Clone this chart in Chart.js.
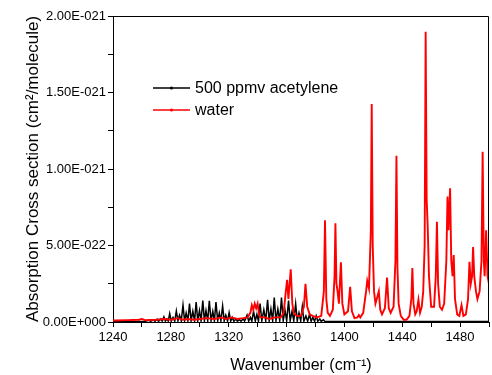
<!DOCTYPE html>
<html>
<head>
<meta charset="utf-8">
<script src="https://cdn.jsdelivr.net/npm/chart.js@4"></script>
<style>
  html, body { margin: 0; padding: 0; background: #fff; }
  #wrap { width: 492px; height: 375px; }
</style>
</head>
<body>
<div id="wrap"><canvas id="canvas"></canvas></div>
<script>
// 吸収断面積 (単位 1E-021 cm2/molecule) を波数ごとに読み取り
var acetyleneWn = [
  1240, 1262, 1265, 1266, 1268, 1269, 1270.5, 1271.5, 1273, 1274,
  1275.2, 1276.2, 1277.3, 1278.2, 1279.2, 1280.3, 1281.5, 1282.7, 1283.8, 1284.9,
  1286, 1287.2, 1288.4, 1289.5, 1290.6, 1291.8, 1292.9, 1294, 1295.2, 1296.4,
  1297.5, 1298.6, 1299.8, 1300.9, 1302.1, 1303.2, 1304.3, 1305.5, 1306.6, 1307.8,
  1309, 1310.1, 1311.2, 1312.4, 1313.5, 1314.6, 1315.8, 1316.9, 1318, 1319.2,
  1320.3, 1321.4, 1322.5, 1323.6, 1325, 1326, 1327.5, 1328.5, 1330, 1331,
  1332.7, 1333.8, 1335, 1336, 1337.2, 1338.4, 1339.5, 1340.6, 1341.7, 1342.9,
  1344.3, 1345.6, 1346.9, 1348, 1349.2, 1350.4, 1351.5, 1352.7, 1354, 1355.3,
  1356.5, 1357.7, 1358.9, 1360.1, 1361.4, 1362.5, 1363.8, 1365, 1366.3, 1367.4,
  1368.6, 1369.8, 1370.9, 1372, 1373.4, 1374.6, 1375.9, 1377, 1378.2, 1379.4,
  1380.5, 1381.6, 1383, 1384, 1385.5, 1386.5, 1500
];
var acetyleneSigma = [
  0.003, 0.004, 0.012, 0.004, 0.014, 0.004, 0.018, 0.004, 0.02, 0.006,
  0.033, 0.006, 0.02, 0.006, 0.055, 0.006, 0.03, 0.006, 0.072, 0.008,
  0.045, 0.008, 0.11, 0.008, 0.06, 0.008, 0.12, 0.008, 0.07, 0.008,
  0.13, 0.008, 0.075, 0.008, 0.14, 0.008, 0.075, 0.008, 0.138, 0.008,
  0.07, 0.008, 0.13, 0.008, 0.06, 0.008, 0.105, 0.008, 0.045, 0.006,
  0.062, 0.006, 0.03, 0.005, 0.02, 0.005, 0.015, 0.005, 0.02, 0.006,
  0.045, 0.006, 0.03, 0.006, 0.07, 0.006, 0.05, 0.006, 0.12, 0.008,
  0.08, 0.008, 0.145, 0.008, 0.085, 0.008, 0.16, 0.008, 0.085, 0.008,
  0.16, 0.008, 0.08, 0.008, 0.14, 0.008, 0.07, 0.008, 0.12, 0.008,
  0.06, 0.006, 0.1, 0.006, 0.04, 0.005, 0.05, 0.005, 0.03, 0.005,
  0.04, 0.005, 0.02, 0.004, 0.015, 0.004, 0.003
];

var waterWn = [
  1240, 1250, 1258, 1260, 1262, 1270, 1275, 1280, 1285, 1288,
  1292, 1296, 1300, 1305, 1310, 1315, 1318, 1322, 1326, 1330,
  1333, 1335, 1336, 1337, 1338, 1339, 1340, 1341, 1342, 1345,
  1348, 1352, 1356, 1358, 1359.5, 1360.4, 1361.3, 1362.9, 1364, 1365,
  1367, 1370, 1372, 1373.1, 1374.3, 1376, 1378, 1381, 1384, 1385.8,
  1386.6, 1387.5, 1388.5, 1390, 1392, 1393.2, 1393.8, 1394.5, 1395.3, 1396.2,
  1397.6, 1398.6, 1400, 1402.5, 1404, 1405.2, 1407, 1409, 1410, 1411,
  1413, 1415, 1415.8, 1417, 1418.3, 1418.9, 1419.6, 1420.5, 1421.5, 1423.8,
  1424.8, 1426, 1428, 1429.5, 1430.7, 1432, 1433, 1434, 1435.3, 1436,
  1436.7, 1437.5, 1439, 1441, 1443, 1445, 1446.3, 1447, 1447.8, 1449,
  1450, 1451.2, 1452.3, 1453.5, 1454.5, 1455.5, 1456.2, 1456.9, 1457.6, 1458.5,
  1460, 1462, 1463.2, 1464, 1464.8, 1466, 1467.5, 1469, 1470.5, 1471.3,
  1472, 1473.1, 1473.9, 1474.8, 1475.6, 1476.5, 1478, 1479.5, 1481, 1482.3,
  1484, 1485.5, 1486.5, 1487.4, 1488.3, 1489, 1489.8, 1491, 1492, 1493.5,
  1494.8, 1495.6, 1496.4, 1497, 1498, 1499, 1500
];
var waterSigma = [
  0.01, 0.012, 0.015, 0.02, 0.012, 0.015, 0.02, 0.015, 0.025, 0.015,
  0.02, 0.015, 0.02, 0.025, 0.02, 0.03, 0.02, 0.03, 0.02, 0.025,
  0.03, 0.06, 0.11, 0.08, 0.12, 0.09, 0.12, 0.05, 0.03, 0.03,
  0.02, 0.03, 0.03, 0.06, 0.2, 0.275, 0.15, 0.345, 0.12, 0.06,
  0.04, 0.04, 0.1, 0.25, 0.1, 0.05, 0.04, 0.03, 0.04, 0.2,
  0.665, 0.15, 0.06, 0.04, 0.08, 0.3, 0.645, 0.25, 0.2, 0.12,
  0.39, 0.12, 0.05, 0.07, 0.23, 0.07, 0.025, 0.03, 0.045, 0.03,
  0.06, 0.2, 0.27, 0.22, 0.6, 1.425, 0.5, 0.2, 0.12, 0.2,
  0.08, 0.05, 0.09, 0.29, 0.09, 0.06, 0.08, 0.1, 0.4, 1.087,
  0.35, 0.12, 0.04, 0.015, 0.015, 0.04, 0.15, 0.353, 0.12, 0.05,
  0.07, 0.145, 0.06, 0.1, 0.2, 0.5, 1.897, 0.8, 0.63, 0.3,
  0.1, 0.1, 0.3, 0.655, 0.25, 0.1, 0.08, 0.12, 0.4, 0.82,
  0.6, 0.874, 0.4, 0.3, 0.437, 0.15, 0.05, 0.04, 0.11, 0.04,
  0.05, 0.15, 0.394, 0.25, 0.3, 0.49, 0.3, 0.2, 0.15, 0.2,
  0.4, 1.113, 0.4, 0.3, 0.6, 0.3, 0.25
];

var seriesNames = ['500 ppmv acetylene', 'water'];
var xTickLabels = [1240, 1280, 1320, 1360, 1400, 1440, 1480];
var yUnit = 1e-21;

function toPoints(wn, sigma) {
  return wn.map(function(w, i) { return {x: w, y: sigma[i] * yUnit}; });
}

// 2.00E-021 形式
function sciLabel(v) {
  if (Math.abs(v) < 1e-30) return '0.00E+000';
  var e = Math.floor(Math.log10(Math.abs(v)));
  var m = v / Math.pow(10, e);
  if (m >= 9.995) { m /= 10; e += 1; }
  if (m < 0.9995) { m *= 10; e -= 1; }
  return m.toFixed(2) + 'E' + (e < 0 ? '-' : '+') + String(Math.abs(e)).padStart(3, '0');
}

var FONT = '"Liberation Sans", Arial, sans-serif';

// 枠線（上・右）
var framePlugin = {
  id: 'frame',
  afterDraw: function(chart) {
    var a = chart.chartArea, ctx = chart.ctx;
    ctx.save();
    ctx.strokeStyle = '#000';
    ctx.lineWidth = 1;
    ctx.beginPath();
    ctx.moveTo(a.left, a.top + 0.5);
    ctx.lineTo(a.right - 0.5, a.top + 0.5);
    ctx.lineTo(a.right - 0.5, a.bottom);
    ctx.stroke();
    ctx.restore();
  }
};

// グラフ内の凡例
var insideLegend = {
  id: 'insideLegend',
  afterDraw: function(chart) {
    var ctx = chart.ctx;
    var x0 = 153, y0 = 88, rowH = 22, len = 37;
    ctx.save();
    chart.data.datasets.forEach(function(ds, i) {
      var y = y0 + i * rowH;
      ctx.strokeStyle = ds.borderColor;
      ctx.lineWidth = 1.6;
      ctx.beginPath();
      ctx.moveTo(x0, y);
      ctx.lineTo(x0 + len, y);
      ctx.stroke();
      ctx.fillStyle = ds.borderColor;
      ctx.beginPath();
      ctx.arc(x0 + len / 2, y, 1.6, 0, Math.PI * 2);
      ctx.fill();
      ctx.fillStyle = '#000';
      ctx.font = '16px ' + FONT;
      ctx.textBaseline = 'middle';
      ctx.fillText(ds.label, x0 + len + 5, y + 1);
    });
    ctx.restore();
  }
};

var plotData = {
  datasets: [
    {
      label: seriesNames[0],
      data: toPoints(acetyleneWn, acetyleneSigma),
      borderColor: '#000000',
      borderWidth: 1.5,
      pointRadius: 0,
      tension: 0,
      fill: false,
      order: 2
    },
    {
      label: seriesNames[1],
      data: toPoints(waterWn, waterSigma),
      borderColor: '#ff0000',
      borderWidth: 1.9,
      pointRadius: 0,
      tension: 0,
      fill: false,
      order: 1
    }
  ]
};

window.onload = function() {
  var ctx = document.getElementById('canvas').getContext('2d');
  window.myChart = new Chart(ctx, {
    type: 'line',
    data: plotData,
    plugins: [framePlugin, insideLegend],
    options: {
      responsive: true,
      maintainAspectRatio: false,
      animation: false,
      devicePixelRatio: 1,
      layout: { padding: { left: 0, right: 1, top: 16, bottom: 0 } },
      plugins: { legend: { display: false }, tooltip: { enabled: false } },
      scales: {
        x: {
          type: 'linear',
          min: 1240,
          max: 1500,
          afterFit: function(s) { s.height = 53; },
          border: { display: true, color: '#000', width: 1 },
          grid: { drawOnChartArea: false, drawTicks: true, tickLength: 5, color: '#000' },
          ticks: {
            stepSize: 20,
            autoSkip: false,
            maxRotation: 0,
            padding: 3,
            color: '#000',
            font: { family: FONT, size: 13 },
            callback: function(v) { return xTickLabels.indexOf(v) >= 0 ? String(v) : ''; }
          },
          title: {
            display: true,
            text: 'Wavenumber (cm⁻¹)',
            color: '#000',
            font: { family: FONT, size: 16 },
            padding: { top: 0, bottom: 0 }
          }
        },
        y: {
          min: 0,
          max: 2e-21,
          afterFit: function(s) { s.width = 113; },
          border: { display: true, color: '#000', width: 1 },
          grid: { drawOnChartArea: false, drawTicks: true, tickLength: 5, color: '#000' },
          ticks: {
            stepSize: 2.5e-22,
            autoSkip: false,
            padding: 2,
            color: '#000',
            font: { family: FONT, size: 13 },
            callback: function(v, i) { return i % 2 === 0 ? sciLabel(v) : ''; }
          },
          title: {
            display: true,
            text: 'Absorption Cross section (cm²/molecule)',
            color: '#000',
            font: { family: FONT, size: 17 },
            padding: { top: 23, bottom: 0 }
          }
        }
      }
    }
  });
};
</script>
</body>
</html>
